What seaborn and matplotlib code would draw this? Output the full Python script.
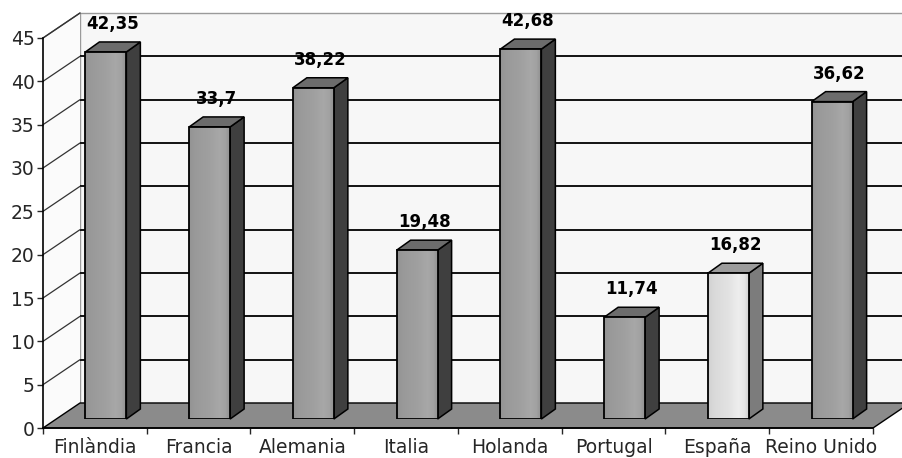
import numpy as np
import pandas as pd
import matplotlib
matplotlib.use("Agg")
import matplotlib.pyplot as plt
from matplotlib.colors import to_rgb
from matplotlib.patches import Polygon, Rectangle
import seaborn as sns

# ---- data -------------------------------------------------------------
categories = ["Finlàndia", "Francia", "Alemania", "Italia",
              "Holanda", "Portugal", "España", "Reino Unido"]
values = [42.35, 33.7, 38.22, 19.48, 42.68, 11.74, 16.82, 36.62]
y_ticks = [0, 5, 10, 15, 20, 25, 30, 35, 40, 45]
highlight = "España"

# ---- style ------------------------------------------------------------
sns.set_style("white")
plt.rcParams["font.family"] = ["DejaVu Sans"]

BAR_FRONT, BAR_SIDE, BAR_TOP = "#9b9b9b", "#3f3f3f", "#6c6c6c"
HL_FRONT, HL_SIDE, HL_TOP = "#dcdcdc", "#7c7c7c", "#9c9c9c"
WALL_COLOR, FLOOR_COLOR = "#f7f7f7", "#8b8b8b"

W, H = 903, 458
fig = plt.figure(figsize=(W / 100, H / 100), dpi=100)
fig.patch.set_facecolor("white")


def px_box(left, bottom, right, top):
    """Axes rectangle given in pixel coordinates measured from the top-left."""
    return [left / W, (H - bottom) / H, (right - left) / W, (bottom - top) / H]


# front plane of the 3-D box (axis lines) and the plane the bars stand in
ax = fig.add_axes(px_box(43, 428, 873, 38))
ax_bar = fig.add_axes(px_box(54, 419, 884, 29))

n = len(categories)
for a in (ax, ax_bar):
    a.set_xlim(-0.5, n - 0.5)
    a.set_ylim(0, 45)

px_x = (830 / n)          # pixels per category
px_y = (390 / 45)         # pixels per value unit
wdx, wdy = 37 / px_x, 25 / px_y      # depth of the whole box
bdx, bdy = 14 / px_x, 10 / px_y      # depth of each bar

x0, x1 = -0.5, n - 0.5
top = y_ticks[-1]

# back wall
ax.add_patch(Rectangle((x0 + wdx, wdy), (x1 - x0), top, facecolor=WALL_COLOR,
                       edgecolor="#9a9a9a", lw=1.0, zorder=0, clip_on=False))
# side wall
ax.add_patch(Polygon([(x0, 0), (x0, top), (x0 + wdx, top + wdy), (x0 + wdx, wdy)],
                     closed=True, facecolor="#fbfbfb", edgecolor="none",
                     zorder=0.5, clip_on=False))
ax.plot([x0, x0 + wdx], [top, top + wdy], color="#555555", lw=1.0,
        zorder=1, clip_on=False)

# gridlines on the back wall and their continuation on the side wall
for v in y_ticks[1:-1]:
    ax.plot([x0 + wdx, x1 + wdx], [v + wdy, v + wdy], color="black", lw=1.3,
            zorder=1, clip_on=False, solid_capstyle="butt")
for v in y_ticks[1:]:
    ax.plot([x0, x0 + wdx], [v, v + wdy], color="#333333", lw=0.9,
            zorder=1, clip_on=False)

# floor
ax.add_patch(Polygon([(x0, 0), (x1, 0), (x1 + wdx, wdy), (x0 + wdx, wdy)],
                     closed=True, facecolor=FLOOR_COLOR, edgecolor="black",
                     lw=1.0, zorder=2, clip_on=False))

# axis lines and ticks
for s in ("top", "right"):
    ax.spines[s].set_visible(False)
for s in ("left", "bottom"):
    ax.spines[s].set_color("black")
    ax.spines[s].set_linewidth(1.2)
    ax.spines[s].set_zorder(3)
ax.set_facecolor("none")
ax.set_yticks(y_ticks)
ax.set_yticklabels([str(t) for t in y_ticks])
ax.set_xticks(np.arange(x0, x1 + 0.01, 1.0))
ax.set_xticklabels([])
ax.set_xticks(np.arange(n), minor=True)
ax.set_xticklabels(categories, minor=True)
ax.tick_params(axis="y", which="major", length=4, width=1.0, pad=2,
               labelsize=13.5, direction="out", left=True)
ax.tick_params(axis="x", which="major", length=4, width=1.0, direction="out",
               bottom=True)
ax.tick_params(axis="x", which="minor", length=0, pad=7, labelsize=13.5)

# ---- bars -------------------------------------------------------------
df = pd.DataFrame({"pais": categories, "valor": values})
front = [HL_FRONT if c == highlight else BAR_FRONT for c in categories]
sns.barplot(data=df, x="pais", y="valor", hue="pais", palette=front,
            width=0.395, saturation=1, edgecolor="black", linewidth=1.3,
            legend=False, ax=ax_bar, zorder=3)
ax_bar.set_xlim(-0.5, n - 0.5)
ax_bar.set_ylim(0, 45)
ax_bar.axis("off")
ax_bar.patch.set_visible(False)

# horizontal shading profile across the front face of a bar
shade_pos = [0.0, 0.15, 0.5, 0.75, 0.9, 1.0]
shade_fac = [0.95, 0.99, 1.03, 1.08, 1.04, 0.94]
t = np.linspace(0, 1, 64)
profile = np.interp(t, shade_pos, shade_fac)

for cat, val, bar in zip(categories, values, ax_bar.patches):
    bx0 = bar.get_x()
    bx1 = bx0 + bar.get_width()
    h = bar.get_height()

    # shaded front face, kept inside the bar outline
    base = np.array(to_rgb(bar.get_facecolor()))
    img = np.clip(profile[None, :, None] * base[None, None, :], 0, 1)
    im = ax_bar.imshow(img, extent=(bx0, bx1, 0, h), aspect="auto",
                       interpolation="bilinear", zorder=3.0)
    im.set_clip_path(bar)
    bar.set_facecolor("none")
    bar.set_zorder(3.1)

    side = HL_SIDE if cat == highlight else BAR_SIDE
    topc = HL_TOP if cat == highlight else BAR_TOP
    ax_bar.add_patch(Polygon([(bx1, 0), (bx1 + bdx, bdy), (bx1 + bdx, h + bdy), (bx1, h)],
                             closed=True, facecolor=side, edgecolor="black",
                             lw=1.1, zorder=2.5, clip_on=False))
    ax_bar.add_patch(Polygon([(bx0, h), (bx1, h), (bx1 + bdx, h + bdy), (bx0 + bdx, h + bdy)],
                             closed=True, facecolor=topc, edgecolor="black",
                             lw=1.1, zorder=2.5, clip_on=False))
    label = f"{val:g}".replace(".", ",")
    ax_bar.annotate(label, xy=(bx0 + bar.get_width() / 2, h),
                    xytext=(5, 20), textcoords="offset points",
                    ha="center", va="center", fontsize=12, fontweight="bold",
                    color="black", annotation_clip=False, zorder=5)

ax_bar.set_xlim(-0.5, n - 0.5)
ax_bar.set_ylim(0, 45)

fig.savefig("out.png", dpi=100, facecolor="white")
